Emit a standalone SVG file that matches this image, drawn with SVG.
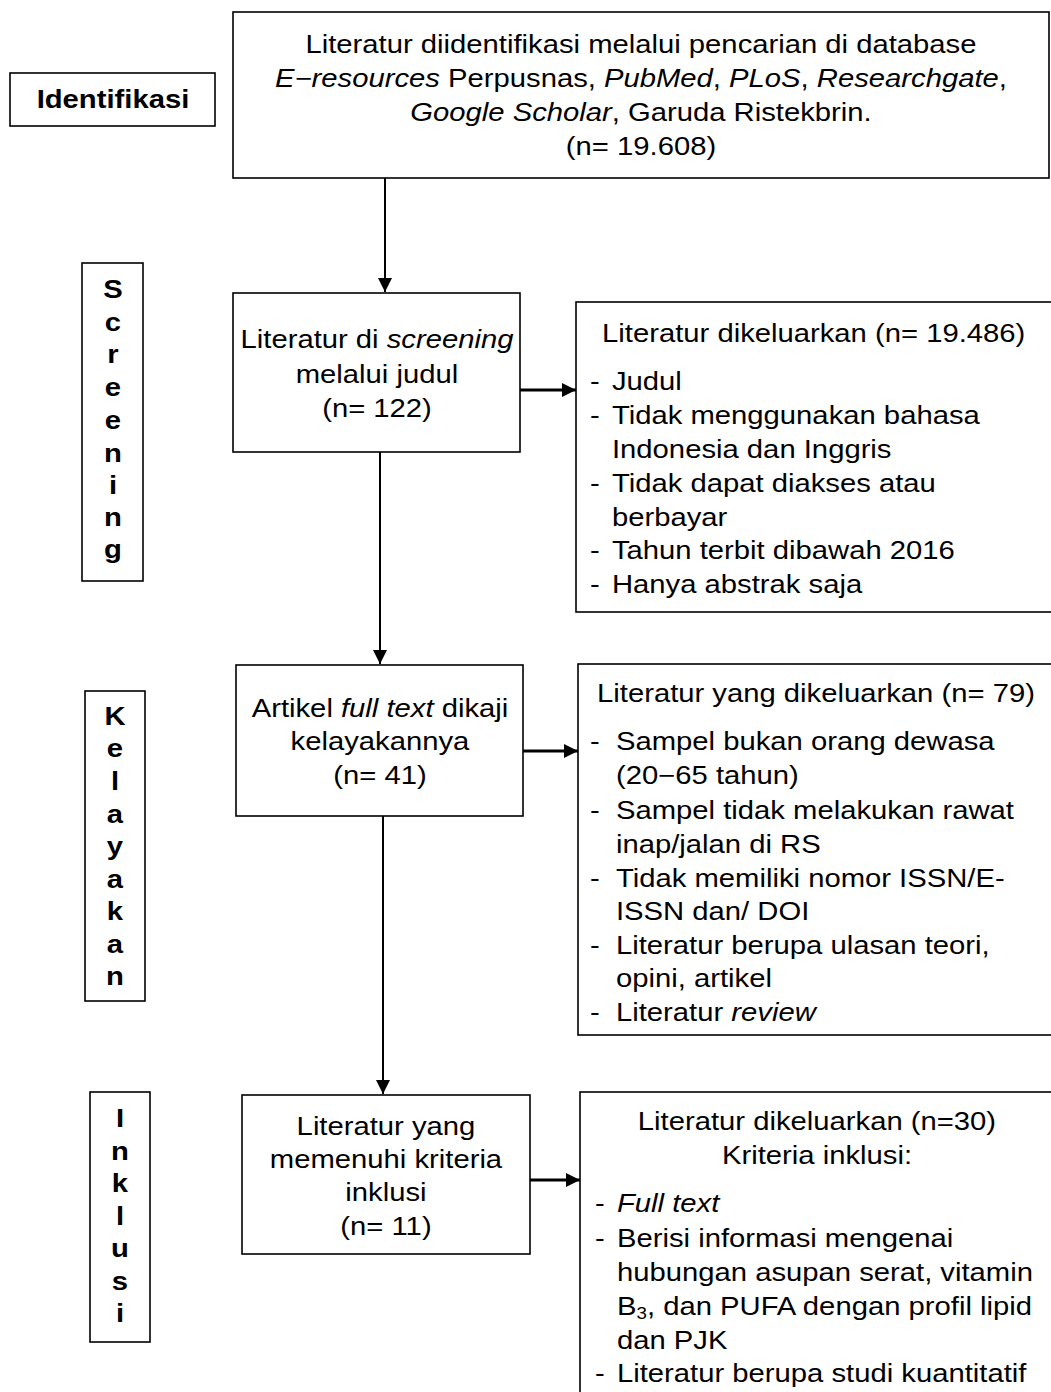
<svg xmlns="http://www.w3.org/2000/svg" width="1051" height="1392" viewBox="0 0 1051 1392">
<style>
.box{fill:#fff;stroke:#000;stroke-width:1.6}
.t{font-family:"Liberation Sans",Arial,sans-serif;font-size:25px;fill:#000}
.c{text-anchor:middle}
.b{font-weight:bold}
.i{font-style:italic}
.v{font-family:"Liberation Sans",Arial,sans-serif;font-size:25px;font-weight:bold;text-anchor:middle;fill:#000}
.ln{stroke:#000;fill:none}
</style>
<defs>
<marker id="ah" markerUnits="userSpaceOnUse" markerWidth="14" markerHeight="14" refX="14" refY="7" orient="auto">
<path d="M0,0 L14,7 L0,14 Z" fill="#000"/>
</marker>
</defs>
<g id="label-identifikasi">
<rect class="box" x="10" y="73" width="205" height="53"/>
<text class="t b c" x="113" y="108" transform="matrix(1.17 0 0 1 -19.21 0)">Identifikasi</text>
</g>
<g id="label-screening">
<rect class="box" x="82" y="263" width="61" height="318"/>
<text class="v" x="113" transform="matrix(1.17 0 0 1 -19.21 0)"><tspan x="113" y="298">S</tspan><tspan x="113" y="331">c</tspan><tspan x="113" y="363">r</tspan><tspan x="113" y="396">e</tspan><tspan x="113" y="429">e</tspan><tspan x="113" y="462">n</tspan><tspan x="113" y="494">i</tspan><tspan x="113" y="526">n</tspan><tspan x="113" y="558">g</tspan></text>
</g>
<g id="label-kelayakan">
<rect class="box" x="85" y="691" width="60" height="310"/>
<text class="v" x="115" transform="matrix(1.17 0 0 1 -19.55 0)"><tspan x="115" y="725">K</tspan><tspan x="115" y="757">e</tspan><tspan x="115" y="790">l</tspan><tspan x="115" y="823">a</tspan><tspan x="115" y="855">y</tspan><tspan x="115" y="888">a</tspan><tspan x="115" y="920">k</tspan><tspan x="115" y="953">a</tspan><tspan x="115" y="985">n</tspan></text>
</g>
<g id="label-inklusi">
<rect class="box" x="90" y="1092" width="60" height="250"/>
<text class="v" x="120" transform="matrix(1.17 0 0 1 -20.4 0)"><tspan x="120" y="1127">I</tspan><tspan x="120" y="1160">n</tspan><tspan x="120" y="1192">k</tspan><tspan x="120" y="1225">l</tspan><tspan x="120" y="1257">u</tspan><tspan x="120" y="1290">s</tspan><tspan x="120" y="1322">i</tspan></text>
</g>
<g id="node-identifikasi">
<rect class="box" x="233" y="12" width="816" height="166"/>
<g transform="matrix(1.17 0 0 1 -108.97 0)">
<text class="t c" x="641" y="53">Literatur diidentifikasi melalui pencarian di database</text>
<text class="t c" x="641" y="87"><tspan class="i">E−resources</tspan> Perpusnas, <tspan class="i">PubMed</tspan>, <tspan class="i">PLoS</tspan>, <tspan class="i">Researchgate</tspan>,</text>
<text class="t c" x="641" y="121"><tspan class="i">Google Scholar</tspan>, Garuda Ristekbrin.</text>
<text class="t c" x="641" y="155">(n= 19.608)</text>
</g>
</g>
<g id="node-screening">
<rect class="box" x="233" y="293" width="287" height="159"/>
<g transform="matrix(1.17 0 0 1 -64.09 0)">
<text class="t c" x="377" y="348">Literatur di <tspan class="i">screening</tspan></text>
<text class="t c" x="377" y="383">melalui judul</text>
<text class="t c" x="377" y="417">(n= 122)</text>
</g>
</g>
<g id="node-excluded-1">
<rect class="box" x="576" y="302" width="500" height="310"/>
<g transform="matrix(1.17 0 0 1 -100.3 0)">
<text class="t" x="600.3" y="342">Literatur dikeluarkan (n= 19.486)</text>
<text class="t" x="590" y="390">-</text><text class="t" x="608.8" y="390">Judul</text>
<text class="t" x="590" y="424">-</text><text class="t" x="608.8" y="424">Tidak menggunakan bahasa</text>
<text class="t" x="608.8" y="458">Indonesia dan Inggris</text>
<text class="t" x="590" y="492">-</text><text class="t" x="608.8" y="492">Tidak dapat diakses atau</text>
<text class="t" x="608.8" y="526">berbayar</text>
<text class="t" x="590" y="559">-</text><text class="t" x="608.8" y="559">Tahun terbit dibawah 2016</text>
<text class="t" x="590" y="593">-</text><text class="t" x="608.8" y="593">Hanya abstrak saja</text>
</g>
</g>
<g id="node-kelayakan">
<rect class="box" x="236" y="665" width="287" height="151"/>
<g transform="matrix(1.17 0 0 1 -64.6 0)">
<text class="t c" x="380" y="717">Artikel <tspan class="i">full text</tspan> dikaji</text>
<text class="t c" x="380" y="750">kelayakannya</text>
<text class="t c" x="380" y="784">(n= 41)</text>
</g>
</g>
<g id="node-excluded-2">
<rect class="box" x="578" y="664" width="500" height="371"/>
<g transform="matrix(1.17 0 0 1 -100.3 0)">
<text class="t" x="596" y="702">Literatur yang dikeluarkan (n= 79)</text>
<text class="t" x="590" y="750">-</text><text class="t" x="612.2" y="750">Sampel bukan orang dewasa</text>
<text class="t" x="612.2" y="784">(20−65 tahun)</text>
<text class="t" x="590" y="819">-</text><text class="t" x="612.2" y="819">Sampel tidak melakukan rawat</text>
<text class="t" x="612.2" y="853">inap/jalan di RS</text>
<text class="t" x="590" y="887">-</text><text class="t" x="612.2" y="887">Tidak memiliki nomor ISSN/E-</text>
<text class="t" x="612.2" y="920">ISSN dan/ DOI</text>
<text class="t" x="590" y="954">-</text><text class="t" x="612.2" y="954">Literatur berupa ulasan teori,</text>
<text class="t" x="612.2" y="987">opini, artikel</text>
<text class="t" x="590" y="1021">-</text><text class="t" x="612.2" y="1021">Literatur <tspan class="i">review</tspan></text>
</g>
</g>
<g id="node-inklusi">
<rect class="box" x="242" y="1095" width="288" height="159"/>
<g transform="matrix(1.17 0 0 1 -65.62 0)">
<text class="t c" x="386" y="1135">Literatur yang</text>
<text class="t c" x="386" y="1168">memenuhi kriteria</text>
<text class="t c" x="386" y="1201">inklusi</text>
<text class="t c" x="386" y="1235">(n= 11)</text>
</g>
</g>
<g id="node-excluded-3">
<rect class="box" x="580" y="1092" width="500" height="330"/>
<g transform="matrix(1.17 0 0 1 -138.89 0)">
<text class="t c" x="817" y="1130">Literatur dikeluarkan (n=30)</text>
<text class="t c" x="817" y="1164">Kriteria inklusi:</text>
</g>
<g transform="matrix(1.17 0 0 1 -101.15 0)">
<text class="t" x="595" y="1212">-</text><text class="t i" x="613.8" y="1212">Full text</text>
<text class="t" x="595" y="1247">-</text><text class="t" x="613.8" y="1247">Berisi informasi mengenai</text>
<text class="t" x="613.8" y="1281">hubungan asupan serat, vitamin</text>
<text class="t" x="613.8" y="1315">B<tspan font-size="16" dy="4">3</tspan><tspan dy="-4">, dan PUFA dengan profil lipid</tspan></text>
<text class="t" x="613.8" y="1349">dan PJK</text>
<text class="t" x="595" y="1382">-</text><text class="t" x="613.8" y="1382">Literatur berupa studi kuantitatif</text>
</g>
</g>
<g id="connectors">
<line class="ln" x1="385" y1="178" x2="385" y2="292" stroke-width="2" marker-end="url(#ah)"/>
<line class="ln" x1="520" y1="390" x2="576" y2="390" stroke-width="3" marker-end="url(#ah)"/>
<line class="ln" x1="380" y1="452" x2="380" y2="664" stroke-width="2" marker-end="url(#ah)"/>
<line class="ln" x1="523" y1="751" x2="578" y2="751" stroke-width="3" marker-end="url(#ah)"/>
<line class="ln" x1="383" y1="816" x2="383" y2="1094" stroke-width="2" marker-end="url(#ah)"/>
<line class="ln" x1="530" y1="1180" x2="580" y2="1180" stroke-width="3" marker-end="url(#ah)"/>
</g>
</svg>
